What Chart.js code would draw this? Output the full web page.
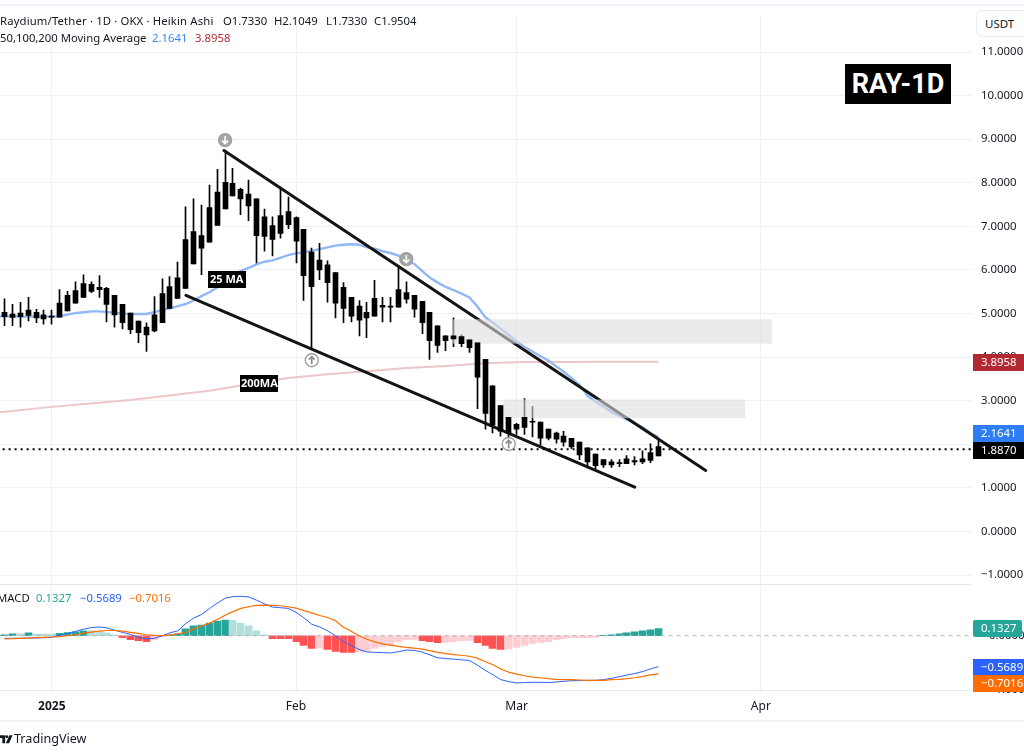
<!DOCTYPE html>
<html><head><meta charset="utf-8">
<style>
html,body{margin:0;padding:0;background:#fff}
#w{position:relative;width:1024px;height:756px;overflow:hidden;font-family:"Noto Sans",sans-serif;color:#131722}
canvas{position:absolute;left:0;top:0}
.t{position:absolute;white-space:nowrap;font-size:11.3px;line-height:16px}
</style></head><body>
<div id="w">
<canvas id="c" width="1024" height="756"></canvas>
<div style="position:absolute;left:0;top:4px;width:1024px;height:2px;background:#f0f3fa"></div>
<div style="position:absolute;left:0;top:720px;width:1024px;height:2px;background:#f0f3fa"></div>
<span class="t" style="left:0;top:13px;letter-spacing:.15px">Raydium/Tether · 1D · OKX · Heikin Ashi</span>
<span class="t" style="left:223px;top:13px">O1.7330</span>
<span class="t" style="left:274px;top:13px">H2.1049</span>
<span class="t" style="left:326px;top:13px">L1.7330</span>
<span class="t" style="left:374px;top:13px">C1.9504</span>
<span class="t" style="left:0;top:30px">50,100,200 Moving Average</span>
<span class="t" style="left:152px;top:30px;color:#3d85f0">2.1641</span>
<span class="t" style="left:195px;top:30px;color:#b22833">3.8958</span>
<span class="t" style="left:-3px;top:590px">MACD</span>
<span class="t" style="left:36px;top:590px;color:#26a69a">0.1327</span>
<span class="t" style="left:80px;top:590px;color:#2962ff">−0.5689</span>
<span class="t" style="left:129px;top:590px;color:#ff6d00">−0.7016</span>
<div class="t" style="left:976px;top:10px;width:60px;height:25px;line-height:25px;border:1px solid #e8eaf0;border-radius:6px;padding-left:8px;font-size:11.5px;background:#fff">USDT</div>
<div class="t" style="left:845px;top:64px;width:106px;height:40px;line-height:40px;background:#000;color:#fff;font-size:27px;font-weight:700;text-align:center;font-family:Roboto,sans-serif">RAY-1D</div>
<svg style="position:absolute;left:0;top:734px" width="13" height="11" viewBox="0 0 14 11"><path d="M0 1H5.5V9.5H2.5V4H0Z" fill="#131722"/><circle cx="7.2" cy="2.5" r="1.6" fill="#131722"/><path d="M10 1H13.5L9.8 9.5H6.3Z" fill="#131722"/></svg>
<span class="t" style="left:14px;top:731px;font-size:12.6px">TradingView</span>
</div>
<script src="https://cdn.jsdelivr.net/npm/chart.js@4"></script>
<script>
const firstCandleDay=-6;
const highs=[5.34,5.21,5.26,5.37,5.10,5.08,5.08,5.55,5.51,5.73,5.89,5.73,5.87,5.60,5.42,5.21,5.01,4.83,4.79,5.39,5.80,5.85,6.18,7.45,7.63,7.49,7.95,8.31,8.74,8.33,7.88,8.06,7.63,7.40,7.22,7.90,7.67,7.22,6.93,6.50,6.61,6.21,5.94,5.71,5.37,5.30,5.26,5.76,5.37,5.37,6.05,5.73,5.42,5.28,5.03,4.72,4.49,4.90,4.51,4.40,4.33,3.95,3.34,2.89,2.62,2.48,3.05,2.87,2.51,2.35,2.28,2.30,2.14,2.05,1.92,1.78,1.65,1.65,1.65,1.74,1.72,1.85,2.01,2.1049];
const bodyTops=[5.03,4.99,5.01,5.08,5.03,4.97,4.94,5.24,5.42,5.53,5.69,5.67,5.60,5.58,5.42,5.21,5.01,4.83,4.69,4.97,5.46,5.62,5.82,6.70,6.88,6.79,7.43,7.79,8.01,7.99,7.85,7.74,7.63,7.22,7.02,7.25,7.34,7.20,6.93,6.41,6.23,6.12,5.94,5.60,5.37,5.17,5.03,5.35,5.19,5.17,5.55,5.48,5.42,5.28,5.03,4.72,4.49,4.49,4.47,4.40,4.33,3.95,3.34,2.89,2.62,2.46,2.62,2.53,2.51,2.35,2.26,2.19,2.14,2.05,1.92,1.78,1.65,1.60,1.58,1.67,1.63,1.67,1.81,1.9504];
const bodyBottoms=[4.93,4.91,4.93,4.96,4.90,4.88,4.92,4.92,5.06,5.24,5.37,5.51,5.55,5.21,4.97,4.79,4.63,4.56,4.51,4.60,4.79,5.12,5.35,5.58,6.14,6.50,6.64,7.02,7.40,7.70,7.63,7.47,6.79,6.77,6.70,6.84,7.04,6.66,5.87,5.62,6.00,5.71,5.24,5.12,4.94,4.85,4.90,4.94,5.15,5.15,5.15,5.33,5.10,4.79,4.38,4.27,4.38,4.42,4.31,4.22,3.54,2.71,2.44,2.30,2.26,2.35,2.39,2.51,2.14,2.14,2.12,2.05,1.94,1.76,1.60,1.51,1.53,1.53,1.56,1.56,1.60,1.60,1.63,1.733];
const lows=[4.72,4.72,4.69,4.83,4.79,4.76,4.76,4.92,5.06,5.24,5.37,5.48,5.37,4.81,4.69,4.65,4.54,4.33,4.13,4.58,4.79,5.12,5.35,5.58,6.14,5.89,6.64,7.02,7.40,7.70,7.27,7.13,6.16,6.43,6.32,6.73,6.95,6.16,5.30,4.19,5.78,5.26,4.90,4.79,4.81,4.49,4.45,4.94,4.81,4.81,5.15,5.24,4.92,4.54,3.95,4.11,4.15,4.24,4.24,4.11,2.82,2.35,2.26,2.19,1.90,2.23,2.23,2.17,1.99,2.10,2.03,1.96,1.90,1.65,1.51,1.44,1.47,1.47,1.49,1.56,1.53,1.56,1.58,1.733];
const ma25=[4.94,4.94,4.94,4.93,4.93,4.93,4.93,4.93,4.94,4.98,5.01,5.03,5.05,5.05,5.04,5.02,5.00,4.99,4.99,4.99,5.03,5.08,5.12,5.17,5.22,5.30,5.40,5.49,5.60,5.73,5.87,5.98,6.05,6.13,6.19,6.22,6.28,6.34,6.38,6.41,6.44,6.48,6.52,6.56,6.58,6.59,6.58,6.52,6.49,6.43,6.39,6.33,6.23,6.14,5.98,5.82,5.71,5.61,5.54,5.46,5.37,5.17,4.92,4.79,4.65,4.51,4.36,4.24,4.13,4.02,3.93,3.79,3.66,3.52,3.36,3.12,2.98,2.87,2.75,2.66,2.57,2.48,2.39,2.26,2.1641];
const ma25FirstDay=-7;
const ma200Days=[-7,0,10,20,25,30,35,40,45,50,55,60,65,70,77];
const ma200=[2.73,2.86,3.02,3.23,3.38,3.52,3.61,3.68,3.75,3.80,3.86,3.89,3.89,3.894,3.8958];
const macdHist=[.018,.036,.036,.054,.03,.03,.03,.042,.06,.072,.09,.09,.078,.054,.018,-.036,-.072,-.09,-.108,-.072,-.018,.018,.036,.126,.18,.198,.234,.27,.288,.285,.234,.18,.09,.018,-.054,-.054,-.054,-.108,-.18,-.234,-.23,-.252,-.288,-.306,-.306,-.30,-.288,-.234,-.198,-.18,-.108,-.072,-.07,-.09,-.108,-.126,-.125,-.108,-.09,-.088,-.126,-.18,-.234,-.252,-.25,-.216,-.18,-.144,-.126,-.108,-.072,-.054,-.036,-.035,-.034,-.033,.009,.018,.036,.054,.072,.09,.108,.1327];
const macdLine=[-.048,-.048,-.048,-.042,-.042,-.036,-.03,.006,.042,.078,.12,.15,.162,.144,.102,.06,.024,-.03,-.06,-.048,-.006,.054,.09,.222,.324,.39,.498,.6,.69,.72,.726,.714,.654,.588,.528,.516,.504,.432,.33,.21,.162,.09,0,-.108,-.18,-.252,-.3,-.306,-.312,-.318,-.294,-.264,-.27,-.3,-.354,-.408,-.42,-.432,-.444,-.456,-.54,-.636,-.72,-.81,-.846,-.87,-.864,-.858,-.858,-.864,-.852,-.84,-.828,-.828,-.822,-.822,-.81,-.786,-.756,-.726,-.696,-.66,-.612,-.5689];
const signalLine=[-.06,-.054,-.048,-.042,-.036,-.03,-.024,-.018,0,.018,.048,.066,.084,.096,.096,.084,.06,.042,.018,.006,0,.012,.036,.06,.126,.18,.228,.3,.378,.444,.504,.534,.558,.564,.558,.552,.534,.51,.462,.42,.372,.336,.276,.162,.084,0,-.066,-.114,-.15,-.174,-.198,-.216,-.228,-.246,-.276,-.306,-.33,-.348,-.36,-.378,-.414,-.474,-.534,-.612,-.672,-.708,-.738,-.762,-.774,-.792,-.804,-.81,-.81,-.816,-.822,-.822,-.822,-.81,-.804,-.792,-.774,-.75,-.72,-.7016];
const upperTrendDays=[21.85,83.0], upperTrendVals=[8.74,1.40];
const lowerTrendDays=[17.03,74.0], lowerTrendVals=[5.42,1.02];
const lastPriceLine=[1.887,1.887], lastPriceDays=[-7,117];
const zoneDays=[[50.9,91.4],[57.3,88.0]], zoneVals=[[4.87,4.31],[3.03,2.60]];
const priceTicks=[-1,0,1,2,3,4,5,6,7,8,9,10,11];
const macdTicks=[-1,0];
const timeTickDays=[0,31,59,90], timeTickLabels=['2025','Feb','Mar','Apr'];
const markerDays=[22,45,33,58], markerVals=[8.98,6.25,3.93,2.01], markerDirs=['d','d','u','u'];
const noteTexts=['25 MA','200MA'], noteDays=[22.2,26.35], noteVals=[5.78,3.40];

const days=highs.map((_,i)=>firstCandleDay+i);
const ma25Days=ma25.map((_,i)=>ma25FirstDay+i);
const zip=(xs,ys)=>xs.map((x,i)=>({x,y:ys[i]}));
const histColors=macdHist.map((v,i)=>{const p=i?macdHist[i-1]:0;return v>=0?(v>p?'#26a69a':'#b2dfdb'):(v<=p?'#ff5252':'#ffcdd2');});
const FONT='"Noto Sans",sans-serif';
const LOWER_TREND_INDEX=6;

const snap={id:'snap',afterDatasetsUpdate(ch){ch.data.datasets.forEach((d,i)=>{if(d.type==='bar'){ch.getDatasetMeta(i).data.forEach(el=>{el.x=Math.floor(el.x)+0.5;});}});}};
const deco={id:'deco',
afterDatasetDraw(ch,args){ if(args.index!==LOWER_TREND_INDEX) return;
  const c=ch.ctx,X=ch.scales.x,Y=ch.scales.y;
  c.save();
  c.fillStyle='rgba(222,222,222,0.6)';
  zoneDays.forEach((z,i)=>{const a=X.getPixelForValue(z[0]),b=X.getPixelForValue(z[1]),t=Y.getPixelForValue(zoneVals[i][0]),u=Y.getPixelForValue(zoneVals[i][1]);c.fillRect(a,t,b-a,u-t);});
  c.restore();
},
afterDatasetsDraw(ch){const c=ch.ctx,X=ch.scales.x,Y=ch.scales.y,M=ch.scales.m;
  c.save();
  c.fillStyle='#e6e8ee';
  c.fillRect(0,Math.round(M.top)-1,X.right,1);
  c.fillRect(0,Math.round(M.bottom),X.right,1);
  noteTexts.forEach((t,i)=>{const x=X.getPixelForValue(noteDays[i]),y=Y.getPixelForValue(noteVals[i]);
    c.fillStyle='#000';c.fillRect(Math.round(x-19),Math.round(y-8.5),38,17);
    c.fillStyle='#fff';c.font='700 11px '+FONT;c.textAlign='center';c.textBaseline='middle';c.fillText(t,x,y+0.5);});
  markerDays.forEach((d,i)=>{const x=X.getPixelForValue(d),y=Y.getPixelForValue(markerVals[i]),dn=markerDirs[i]==='d';
    c.beginPath();c.arc(x,y,6.5,0,7);
    c.fillStyle=dn?'#a6a6a6':'rgba(255,255,255,0.85)';c.fill();
    c.lineWidth=1.4;c.strokeStyle='#a0a0a0';c.stroke();
    c.strokeStyle=dn?'#fff':'#8a8a8a';c.lineWidth=1.6;const s=dn?1:-1;
    c.beginPath();c.moveTo(x,y-4*s);c.lineTo(x,y+3.5*s);c.moveTo(x-3,y+0.5*s);c.lineTo(x,y+3.5*s);c.lineTo(x+3,y+0.5*s);c.stroke();});
  c.restore();
},
afterDraw(ch){const c=ch.ctx,Y=ch.scales.y,M=ch.scales.m;
  const tag=(y,t,bg,r)=>{c.fillStyle=bg;c.beginPath();c.roundRect(973,Math.round(y-8.5),r?49:51,17,r?2:0);c.fill();c.fillStyle='#fff';c.font='11.4px '+FONT;c.textAlign='left';c.textBaseline='middle';c.fillText(t,981,Math.round(y-8.5)+9);};
  c.save();
  tag(Y.getPixelForValue(3.8958)+1,'3.8958','#b22833');
  tag(Y.getPixelForValue(2.1641)-4,'2.1641','#2e7df6');
  tag(Y.getPixelForValue(1.887)+1,'1.8870','#000');
  tag(M.getPixelForValue(0.1327),'0.1327','#26a69a',1);
  tag(M.getPixelForValue(-0.5689)+0.5,'−0.5689','#2962ff');
  tag(M.getPixelForValue(-0.7016)+10,'−0.7016','#ff6d00');
  c.restore();
}};

new Chart(document.getElementById('c'),{
 type:'bar',
 plugins:[snap,deco],
 data:{datasets:[
  {type:'line',data:zip(ma25Days,ma25),yAxisID:'y',borderColor:'#90b8f5',borderWidth:2.4,pointRadius:0,order:6},
  {type:'line',data:zip(ma200Days,ma200),yAxisID:'y',borderColor:'#ecc6c8',borderWidth:2,pointRadius:0,order:6},
  {type:'bar',data:zip(days,lows.map((l,i)=>[l,highs[i]])),yAxisID:'y',backgroundColor:'#000',barThickness:1,grouped:false,order:5},
  {type:'bar',data:zip(days,bodyBottoms.map((b,i)=>[b,bodyTops[i]])),yAxisID:'y',backgroundColor:'#000',barThickness:5,grouped:false,order:3},
  {type:'line',data:zip(lastPriceDays,lastPriceLine),yAxisID:'y',borderColor:'#000',borderWidth:2,borderDash:[2,4],pointRadius:0,order:2},
  {type:'line',data:zip(upperTrendDays,upperTrendVals),yAxisID:'y',borderColor:'#141414',borderWidth:3,borderCapStyle:'round',pointRadius:0,order:4.1},
  {type:'line',data:zip(lowerTrendDays,lowerTrendVals),yAxisID:'y',borderColor:'#141414',borderWidth:3,borderCapStyle:'round',pointRadius:0,order:4},
  {type:'bar',data:zip(days,macdHist),yAxisID:'m',backgroundColor:histColors,barThickness:7,grouped:false,order:5},
  {type:'line',data:zip(lastPriceDays,[0,0]),yAxisID:'m',borderColor:'#b2b5be',borderWidth:1,borderDash:[4,4],pointRadius:0,order:4},
  {type:'line',data:zip(days,macdLine),yAxisID:'m',borderColor:'#2962ff',borderWidth:1,pointRadius:0,order:2},
  {type:'line',data:zip(days,signalLine),yAxisID:'m',borderColor:'#ff6d00',borderWidth:1.2,pointRadius:0,order:1}
 ]},
 options:{responsive:false,animation:false,events:[],devicePixelRatio:1,
  layout:{autoPadding:false,padding:{top:5,left:0,right:0,bottom:0}},
  plugins:{legend:{display:false},tooltip:{enabled:false}},
  scales:{
   x:{type:'linear',position:'bottom',min:-6.57,max:116.8,offset:false,
     afterBuildTicks:s=>{s.ticks=timeTickDays.map(v=>({value:v}));},
     afterFit:s=>{s.height=66;},
     grid:{color:'#eef0f3',drawTicks:false,offset:false},border:{display:false},
     ticks:{autoSkip:false,maxRotation:0,padding:9,color:'#131722',
       font:ctx=>({family:FONT,size:12,weight:ctx.index===0?'700':'400'}),
       callback:v=>timeTickLabels[timeTickDays.indexOf(v)]}},
   y:{position:'right',stack:'p',stackWeight:578,min:-1.219,max:11.83,
     afterBuildTicks:s=>{s.ticks=priceTicks.map(v=>({value:v}));},
     afterFit:s=>{s.width=52;},
     grid:{color:'#eef0f3',drawTicks:false},border:{display:false},
     ticks:{padding:9,crossAlign:'near',color:'#131722',font:{family:FONT,size:11.4},
       callback:v=>(v<0?'−':'')+Math.abs(v).toFixed(4)}},
   m:{position:'right',stack:'p',stackWeight:107,min:-1,max:.94,
     afterBuildTicks:s=>{s.ticks=macdTicks.map(v=>({value:v}));},
     afterFit:s=>{s.width=52;},
     grid:{display:false},border:{display:false},
     ticks:{padding:9,crossAlign:'near',color:'#131722',font:{family:FONT,size:11.4},
       callback:v=>(v<0?'−':'')+Math.abs(v).toFixed(4)}}
  }}
});
</script>
</body></html>
